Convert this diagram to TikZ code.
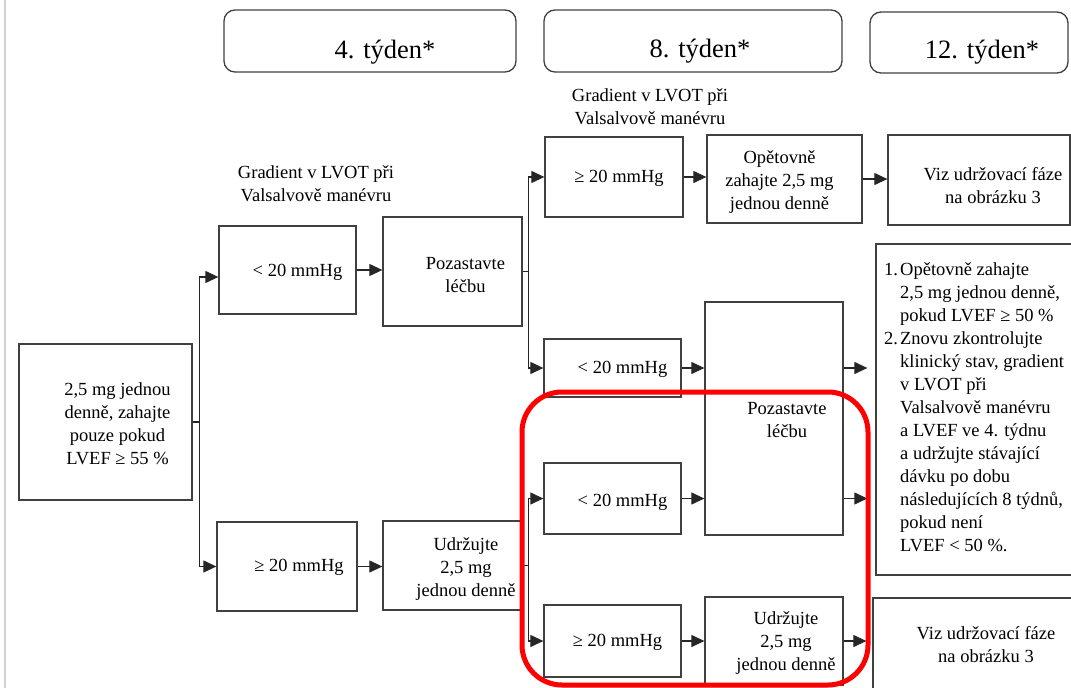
\documentclass[tikz,border=0pt]{standalone}
\usepackage{fontspec}
\setmainfont{Liberation Serif}
\newfontfamily\timesfont{Liberation Serif}
\usetikzlibrary{arrows.meta, positioning}
\tikzstyle{box} = [rectangle, draw=black!75, line width=1.3pt, inner sep=0pt]
\tikzstyle{week} = [rectangle, rounded corners=11pt, draw=black!75, line width=1.3pt, inner sep=0pt]
\tikzstyle{txt} = [align=center, inner sep=0pt, font=\timesfont\fontsize{18.5}{23}\selectfont]
\tikzstyle{wtxt} = [inner sep=0pt, font=\timesfont\fontsize{26.5}{30}\selectfont]
\tikzstyle{arr} = [-{Triangle[length=13pt,width=12pt]}, draw=black!85, line width=1.2pt]

\begin{document}
\begin{tikzpicture}[x=1pt, y=-1pt]
  \useasboundingbox (0,0) rectangle (1071,688);
  \draw[black!18, line width=2pt] (5,0) -- (5,688);

  % Weeks
  \node[week, minimum width=292pt, minimum height=62pt, label={[wtxt, xshift=15pt, yshift=-11pt]center:4. týden*}] (w4) at (370,41) {};
  \node[week, minimum width=298pt, minimum height=62pt, label={[wtxt, xshift=7pt, yshift=-10pt]center:8. týden*}] (w8) at (693,41) {};
  \node[week, minimum width=198pt, minimum height=61pt, label={[wtxt, xshift=13pt, yshift=-10pt]center:12. týden*}] (w12) at (969,42.5) {};

  % Gradient labels
  \node[txt] (grad4) at (316,184) {Gradient v LVOT při\\Valsalvově manévru};
  \node[txt] (grad8) at (650,107) {Gradient v LVOT při\\Valsalvově manévru};

  % Start
  \node[box, minimum width=173pt, minimum height=156pt, label={[txt, xshift=12pt, yshift=-2pt]center:2,5 mg jednou\\denně, zahajte\\pouze pokud\\LVEF ≥ 55 \%}] (start) at (105.5,422) {};

  % Week 4
  \node[box, minimum width=137pt, minimum height=88pt, label={[txt, xshift=10pt, yshift=-2pt]center:< 20 mmHg}] (lt4) at (287.5,270) {};
  \node[box, minimum width=139pt, minimum height=109pt, label={[txt, xshift=13pt, yshift=-4pt]center:Pozastavte\\léčbu}] (stop4) at (452.5,271.5) {};
  \node[box, minimum width=140pt, minimum height=89pt, label={[txt, xshift=12pt, yshift=-1pt]center:≥ 20 mmHg}] (ge4) at (287,566.5) {};
  \node[box, minimum width=138pt, minimum height=89pt, label={[txt, xshift=14pt, yshift=-3.5pt]center:Udržujte\\2,5 mg\\jednou denně}] (keep4) at (452,565.5) {};

  % Week 8
  \node[box, minimum width=138pt, minimum height=80pt, label={[txt, xshift=5pt, yshift=-1pt]center:≥ 20 mmHg}] (ge8a) at (614,177) {};
  \node[box, minimum width=155pt, minimum height=88pt, label={[txt, xshift=-5pt, yshift=-3pt]center:Opětovně\\zahajte 2,5 mg\\jednou denně}] (opet) at (784.5,179) {};
  \node[box, minimum width=137pt, minimum height=58pt, label={[txt, xshift=10pt, yshift=-1pt]center:< 20 mmHg}] (lt8a) at (612.5,368) {};
  \node[box, minimum width=138pt, minimum height=233pt, label={[txt, xshift=13pt, yshift=-1.5pt]center:Pozastavte\\léčbu}] (stopbig) at (774,418.5) {};
  \node[box, minimum width=137pt, minimum height=71pt, label={[txt, xshift=10pt, yshift=-3.5pt]center:< 20 mmHg}] (lt8b) at (612.5,498.5) {};
  \node[box, minimum width=137pt, minimum height=72pt, label={[txt, xshift=5pt, yshift=-1pt]center:≥ 20 mmHg}] (ge8b) at (612.5,641) {};
  \node[box, minimum width=138pt, minimum height=88pt, label={[txt, xshift=12pt, yshift=-2.5pt]center:Udržujte\\2,5 mg\\jednou denně}] (keep8) at (774,641) {};

  % Week 12
  \node[box, minimum width=182pt, minimum height=90pt, label={[txt, xshift=14pt, yshift=-6pt]center:Viz udržovací fáze\\na obrázku 3}] (viza) at (979,180) {};
  \node[box, minimum width=204pt, minimum height=331pt] (info) at (978,409.5) {};
  \node[txt, align=left, anchor=north west] (infotxt) at (884,262) {%
    \makebox[16pt][l]{1.}Opětovně zahajte\\
    \hspace*{16pt}2,5 mg jednou denně,\\
    \hspace*{16pt}pokud LVEF ≥ 50 \%\\
    \makebox[16pt][l]{2.}Znovu zkontrolujte\\
    \hspace*{16pt}klinický stav, gradient\\
    \hspace*{16pt}v LVOT při\\
    \hspace*{16pt}Valsalvově manévru\\
    \hspace*{16pt}a LVEF ve 4. týdnu\\
    \hspace*{16pt}a udržujte stávající\\
    \hspace*{16pt}dávku po dobu\\
    \hspace*{16pt}následujících 8 týdnů,\\
    \hspace*{16pt}pokud není\\
    \hspace*{16pt}LVEF < 50 \%.};
  \node[box, minimum width=207pt, minimum height=102pt, label={[txt, xshift=9.5pt, yshift=4pt]center:Viz udržovací fáze\\na obrázku 3}] (vizb) at (976.5,649) {};

  % Week 4 arrows
  \draw[arr] (start.east) -- ++(7,0) |- ([yshift=-7pt]lt4.west);
  \draw[arr] (start.east) -- ++(7,0) |- (ge4.west);
  \draw[arr] (lt4.east) -- (lt4.east -| stop4.west);
  \draw[arr] (ge4.east) -- (ge4.east -| keep4.west);

  % Week 8 arrows
  \draw[arr] (stop4.east) -- ++(6,0) |- (ge8a.west);
  \draw[arr] (stop4.east) -- ++(6,0) |- (lt8a.west);
  \draw[arr] (keep4.east) -- ++(7,0) |- (lt8b.west);
  \draw[arr] (keep4.east) -- ++(7,0) |- (ge8b.west);
  \draw[arr] (ge8a.east) -- (ge8a.east -| opet.west);
  \draw[arr] (lt8a.east) -- (lt8a.east -| stopbig.west);
  \draw[arr] (lt8b.east) -- (lt8b.east -| stopbig.west);
  \draw[arr] (ge8b.east) -- (ge8b.east -| keep8.west);

  % Week 12 arrows
  \draw[arr] (opet.east) -- (opet.east -| viza.west);
  \draw[arr, shorten >=8pt] (stopbig.east |- lt8a) -- (info.west |- lt8a);
  \draw[arr, shorten >=8pt] (stopbig.east |- lt8b) -- (info.west |- lt8b);
  \draw[arr, shorten >=6pt] (keep8.east) -- (keep8.east -| vizb.west);

  % Highlight
  \draw[red, line width=5pt, rounded corners=40pt] (522,392) rectangle (868,685);
\end{tikzpicture}
\end{document}
